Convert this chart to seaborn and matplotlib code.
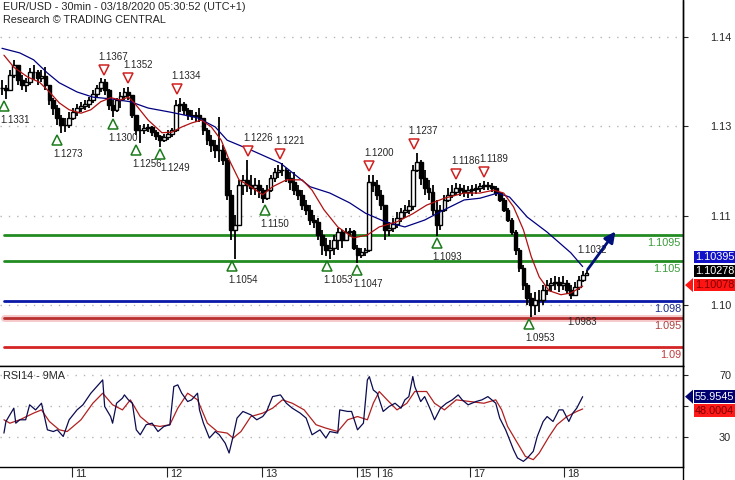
import numpy as np
import seaborn as sns
import matplotlib.pyplot as plt
from matplotlib.patches import Polygon
from matplotlib.lines import Line2D
from matplotlib.transforms import offset_copy, IdentityTransform

# prices are kept in pips above 1.0000 (1351 -> 1.1351), one candle per hour
highs = [1365, 1356, 1382, 1400, 1391, 1374, 1368, 1386, 1391, 1382,
         1382, 1388, 1356, 1334, 1321, 1304, 1299, 1309, 1316, 1323,
         1327, 1330, 1335, 1347, 1356, 1368, 1367, 1349, 1330, 1334,
         1344, 1351, 1352, 1339, 1304, 1287, 1288, 1288, 1285, 1278,
         1269, 1271, 1278, 1281, 1330, 1334, 1327, 1316, 1313, 1309,
         1316, 1299, 1281, 1269, 1260, 1300, 1252, 1229, 1173, 1130,
         1191, 1199, 1226, 1199, 1194, 1191, 1177, 1182, 1199, 1212,
         1217, 1221, 1212, 1205, 1205, 1182, 1173, 1156, 1147, 1130,
         1125, 1104, 1090, 1086, 1095, 1107, 1104, 1107, 1107, 1104,
         1078, 1072, 1072, 1199, 1200, 1191, 1173, 1147, 1118, 1125,
         1135, 1142, 1147, 1156, 1217, 1237, 1226, 1208, 1191, 1182,
         1156, 1147, 1165, 1177, 1182, 1186, 1184, 1182, 1180, 1182,
         1184, 1186, 1189, 1187, 1186, 1180, 1170, 1159, 1142, 1125,
         1104, 1072, 1043, 1011, 994, 996, 999, 1008, 1017, 1020,
         1024, 1022, 1024, 1017, 1008, 1013, 1024, 1032, 1034]
lows = [1339, 1331, 1347, 1368, 1356, 1347, 1344, 1356, 1365, 1356,
        1361, 1347, 1321, 1304, 1287, 1273, 1274, 1281, 1295, 1302,
        1309, 1313, 1316, 1325, 1334, 1344, 1339, 1313, 1300, 1309,
        1316, 1330, 1330, 1299, 1269, 1256, 1271, 1274, 1267, 1260,
        1249, 1257, 1260, 1266, 1274, 1309, 1304, 1295, 1295, 1292,
        1292, 1269, 1252, 1240, 1229, 1222, 1217, 1156, 1086, 1054,
        1112, 1165, 1170, 1165, 1165, 1159, 1150, 1156, 1170, 1187,
        1194, 1198, 1187, 1173, 1165, 1156, 1139, 1130, 1112, 1107,
        1086, 1060, 1058, 1053, 1060, 1069, 1072, 1085, 1093, 1069,
        1047, 1055, 1058, 1065, 1170, 1156, 1139, 1086, 1093, 1100,
        1107, 1118, 1125, 1132, 1139, 1205, 1182, 1165, 1156, 1130,
        1093, 1104, 1135, 1152, 1159, 1165, 1163, 1161, 1159, 1163,
        1166, 1170, 1173, 1173, 1170, 1163, 1152, 1135, 1118, 1095,
        1060, 1031, 999, 973, 953, 956, 961, 973, 991, 996,
        999, 996, 999, 992, 983, 989, 999, 1013, 1024]
closes = [1351, 1347, 1374, 1391, 1365, 1356, 1361, 1379, 1379, 1368,
          1372, 1356, 1330, 1316, 1299, 1287, 1287, 1299, 1309, 1316,
          1320, 1323, 1330, 1340, 1351, 1361, 1347, 1321, 1313, 1330,
          1337, 1344, 1339, 1304, 1278, 1278, 1281, 1283, 1274, 1267,
          1260, 1266, 1271, 1278, 1321, 1323, 1313, 1304, 1302, 1304,
          1299, 1278, 1260, 1252, 1243, 1243, 1226, 1165, 1104, 1112,
          1182, 1191, 1182, 1177, 1182, 1173, 1159, 1173, 1194, 1205,
          1208, 1208, 1194, 1187, 1173, 1165, 1147, 1139, 1121, 1118,
          1095, 1078, 1069, 1072, 1086, 1100, 1086, 1100, 1102, 1072,
          1060, 1065, 1069, 1187, 1182, 1165, 1147, 1104, 1107, 1114,
          1125, 1135, 1139, 1145, 1208, 1222, 1194, 1177, 1170, 1139,
          1112, 1139, 1156, 1165, 1170, 1177, 1173, 1170, 1173, 1175,
          1177, 1180, 1182, 1180, 1177, 1168, 1156, 1139, 1121, 1100,
          1069, 1038, 1008, 985, 973, 982, 982, 999, 1008, 1011,
          1013, 1008, 1011, 999, 991, 1004, 1017, 1025, 1028]

# moving averages on price, read at a few 30min bar numbers
blue_ma_bar = [1, 10, 17, 24, 30, 39, 47, 56, 66, 75, 86, 100, 109, 115, 122, 127, 142,
               157, 167, 177, 185, 195, 205, 215, 225, 235, 243, 252, 258, 267, 277, 289, 295]
blue_ma = [1420, 1412, 1400, 1377, 1360, 1344, 1335, 1332, 1327, 1316, 1309, 1299, 1283,
           1260, 1250, 1243, 1220, 1179, 1168, 1151, 1133, 1118, 1109, 1121, 1139, 1156,
           1159, 1168, 1161, 1126, 1100, 1064, 1040]
red_ma_bar = [2, 7, 14, 20, 25, 30, 35, 41, 46, 51, 56, 61, 65, 68, 75, 82, 87, 92, 97, 102,
              107, 112, 116, 121, 127, 133, 138, 145, 153, 158, 164, 171, 179, 186, 192, 201,
              209, 216, 225, 235, 243, 250, 255, 260, 265, 269, 273, 278, 284, 289, 295]
red_ma = [1408, 1387, 1370, 1361, 1344, 1325, 1313, 1307, 1313, 1327, 1334, 1330, 1335, 1325,
          1295, 1273, 1274, 1283, 1290, 1295, 1283, 1260, 1226, 1191, 1179, 1165, 1179, 1191,
          1191, 1173, 1139, 1109, 1090, 1095, 1109, 1118, 1132, 1147, 1159, 1168, 1168, 1173,
          1168, 1144, 1104, 1057, 1022, 998, 991, 994, 1006]

# RSI14 and its 9MA
rsi_bar = [2, 3, 7, 8, 10, 13, 15, 18, 21, 24, 27, 29, 32, 35, 39, 42, 46, 49, 52, 53,
           56, 57, 59, 62, 63, 65, 67, 69, 71, 74, 77, 80, 83, 86, 88, 90, 92, 95, 97, 100,
           101, 103, 106, 109, 111, 114, 116, 118, 120, 123, 127, 130, 133, 135, 138, 142, 145, 148, 152, 155,
           158, 162, 165, 167, 171, 172, 176, 178, 181, 184, 186, 187, 189, 191, 194, 197, 200, 203, 205, 207,
           209, 210, 213, 215, 218, 220, 223, 226, 229, 232, 234, 237, 241, 244, 247, 249, 251, 253, 256, 258,
           260, 262, 265, 267, 270, 272, 275, 277, 280, 283, 285, 288, 290, 292, 295]
rsi = [32.4, 39.9, 48.5, 38.8, 41, 41, 50.7, 47.4, 51.7, 34.5, 33.4, 34.5, 30.2, 41, 47.4, 50.7, 58.2, 62.5, 66.8, 49.6,
       43.1, 38.8, 51.7, 55, 57.1, 53.9, 51.7, 34.5, 31.3, 37.8, 38.8, 33.4, 36.7, 37.8, 62.5, 63.6, 58.2, 52.8, 53.9, 58.2,
       47.4, 38.8, 29.2, 33.4, 31.3, 25.9, 19.5, 30.2, 42.1, 46.4, 44.2, 41, 43.1, 46.4, 56, 57.1, 51.7, 48.5, 45.3, 42.1,
       31.3, 34.5, 29.2, 33.4, 32.4, 47.4, 46.4, 46.4, 34.5, 38.8, 66.8, 68.9, 60.3, 58.2, 46.4, 49.6, 51.7, 48.5, 53.9, 56,
       69, 62.5, 52.8, 56, 47.4, 41, 48.5, 51.7, 53.9, 57.1, 53.9, 50.7, 52.8, 53.9, 56, 53.9, 51.7, 42.1, 34.5, 28.1,
       21.6, 16.3, 14.1, 16.3, 20.6, 30.2, 39.9, 43.1, 39.9, 47.4, 47.4, 39.9, 45.3, 48.5, 55.95]
rsi_ma_bar = [2, 5, 10, 17, 21, 25, 30, 34, 41, 47, 52, 57, 62, 66, 71, 76, 81, 86, 90, 95,
              100, 105, 110, 115, 118, 122, 127, 133, 138, 143, 148, 154, 160, 165, 171, 176, 181, 186, 189, 192,
              196, 201, 206, 210, 216, 220, 225, 231, 238, 245, 251, 254, 257, 262, 266, 270, 273, 278, 282, 287,
              292, 295]
rsi_ma = [41, 38.8, 41, 45.3, 47.4, 39.9, 34.5, 33.4, 41, 51.7, 58.2, 50.7, 47.4, 53.9, 43.1, 37.8, 36.7, 37.8, 48.5, 58.2,
          53.9, 38.8, 33.4, 32.4, 29.2, 33.4, 43.1, 45.3, 48.5, 53.9, 51.7, 47.4, 37.8, 35.6, 33.4, 41, 43.1, 41, 51.7, 59.3,
          53.9, 47.4, 51.7, 59.3, 59.3, 51.7, 47.4, 53.9, 52.8, 51.7, 53.9, 47.4, 36.7, 25.9, 17.3, 15.2, 19.5, 30.2, 37.8, 43.1,
          46.4, 48.0]

# swing points: (bar, price label)
swing_lows = [(2, "1.1331"), (29, "1.1273"), (57, "1.1300"), (69, "1.1256"), (81, "1.1249"), (117.5, "1.1054"),
              (134, "1.1150"), (165.5, "1.1053"), (181, "1.1047"), (221, "1.1093"), (268, "1.0953")]
swing_highs = [(52.5, "1.1367"), (65, "1.1352"), (89.5, "1.1334"), (125.5, "1.1226"), (142, "1.1221"),
               (187, "1.1200"), (209.5, "1.1237"), (231, "1.1186"), (245, "1.1189")]

levels = [1.1095, 1.105, 1.098, 1.095, 1.09]
level_labels = ["1.1095", "1.105", "1.098", "1.095", "1.09"]
level_colors = ["#228b22", "#228b22", "#0a1aa8", "#b83030", "#d42424"]
level_text_colors = ["#3a9a3a", "#3a9a3a", "#1a2a8a", "#b04040", "#c43a3a"]

day_ticks = [36.5, 84.5, 132.5, 180.5, 191.5, 238, 285.5]
day_labels = ["11", "12", "13", "15", "16", "17", "18"]
price_ticks = [1.0973, 1.1128, 1.1285, 1.1440]

sns.set_style("white")
plt.rcParams['font.family'] = ['Liberation Sans', 'DejaVu Sans']
FS = 7.8

fig = plt.figure(figsize=(7.35, 4.8), dpi=100)
W, H = 735, 480
ax = fig.add_axes([0, 114 / H, 683 / W, 366 / H])
ax2 = fig.add_axes([0, 13 / H, 683 / W, 101 / H])

px = lambda v: np.asarray(v) / 1e4 + 1

# candles
c = px(closes)
o = np.r_[c[0], c[:-1]]
x = np.arange(len(c)) * 2 + 1
ax.vlines(x, px(lows), px(highs), color="black", lw=1.3, zorder=3)
up = c >= o
ax.bar(x[up], (c - o)[up], bottom=o[up], width=1.9, color="white", edgecolor="black", lw=1.0, zorder=4)
ax.bar(x[~up], (o - c)[~up], bottom=c[~up], width=1.9, color="black", edgecolor="black", lw=1.0, zorder=4)

sns.lineplot(x=blue_ma_bar, y=px(blue_ma), color="#000080", lw=0.9, ax=ax, zorder=5)
sns.lineplot(x=red_ma_bar, y=px(red_ma), color="#b01010", lw=0.9, ax=ax, zorder=5)

for v in price_ticks:
    ax.axhline(v, xmax=0.997, color="#b4b4b4", lw=1, ls=(0, (1, 5)), zorder=1)

ax.axhline(1.095, xmin=0.006, color="#f6caca", lw=5, zorder=1)
for v, lab, col, tcol in zip(levels, level_labels, level_colors, level_text_colors):
    ax.axhline(v, xmin=0.006, color=col, lw=2, zorder=2)
    ax.annotate(lab, xy=(0.997, v), xycoords=("axes fraction", "data"), xytext=(0, -3),
                textcoords="offset pixels", ha="right", va="top", color=tcol, fontsize=FS)

# swing markers
below = offset_copy(ax.transData, fig=fig, x=0, y=-7, units="dots")
above = offset_copy(ax.transData, fig=fig, x=0, y=9, units="dots")
for b, lab in swing_lows:
    ax.plot(b, float(lab), marker="^", ms=7.5, mfc="white", mec="#1a7a1a", mew=1.1, transform=below, zorder=6)
    dx = 0 if lab == "1.1249" else -4
    ax.annotate(lab, xy=(b, float(lab)), xytext=(dx, -21), textcoords="offset pixels",
                ha="left", va="center", fontsize=7, zorder=6)
for b, lab in swing_highs:
    ax.plot(b, float(lab), marker="v", ms=7.5, mfc="white", mec="#d02020", mew=1.1, transform=above, zorder=6)
    ax.annotate(lab, xy=(b, float(lab)), xytext=(-5, 22), textcoords="offset pixels",
                ha="left", va="center", fontsize=7, zorder=6)
ax.annotate("1.0983", xy=(289, 1.0983), xytext=(-4, -23), textcoords="offset pixels",
            ha="left", va="center", fontsize=7)
ax.annotate("1.1032", xy=(292.5, 1.1032), xytext=(0, 21), textcoords="offset pixels",
            ha="left", va="center", fontsize=7)

# projected move
ax.annotate("", xy=(312.4, 1.1105), xytext=(296.7, 1.1031),
            arrowprops=dict(arrowstyle="-|>", color="#00107a", lw=2, mutation_scale=16))

ax.set_xlim(0, 345.8)
ax.set_ylim(1.08669, 1.15041)
ax.set_xticks([])
ax.yaxis.tick_right()
ax.set_yticks(price_ticks, [f"{v:.2f}" for v in price_ticks], ha="right")
ax.tick_params(axis="y", direction="out", length=3.6, pad=31, labelsize=FS, right=True)
for s in ["top", "left"]:
    ax.spines[s].set_visible(False)
for s in ["right", "bottom"]:
    ax.spines[s].set_color("black")
    ax.spines[s].set_linewidth(1)

# RSI panel
for v in [30, 50, 70]:
    ax2.axhline(v, xmax=0.997, color="#b4b4b4", lw=1, ls=(0, (1, 5)), zorder=1)
sns.lineplot(x=rsi_ma_bar, y=rsi_ma, color="#b02020", lw=0.9, ax=ax2, zorder=3)
sns.lineplot(x=rsi_bar, y=rsi, color="#0b0b50", lw=0.9, ax=ax2, zorder=4)
ax2.set_xlim(0, 345.8)
ax2.set_ylim(10.45, 75.8)
ax2.set_ylabel("")
ax2.yaxis.tick_right()
ax2.set_yticks([30, 50, 70], ["30", "", "70"], ha="right")
ax2.tick_params(axis="y", direction="out", length=3.6, pad=31, labelsize=FS, right=True)
ax2.set_xticks(day_ticks, day_labels, ha="left")
ax2.tick_params(axis="x", direction="out", length=7, pad=-5.8, labelsize=FS, bottom=True)
shift = offset_copy(IdentityTransform(), fig=fig, x=3, y=0, units="dots")
for lbl in ax2.get_xticklabels():
    lbl.set_transform(lbl.get_transform() + shift)
ax2.spines["left"].set_visible(False)
for s in ["right", "bottom", "top"]:
    ax2.spines[s].set_color("black")
    ax2.spines[s].set_linewidth(1)

fig.add_artist(Line2D([683 / W, 683 / W], [0, 1], color="black", lw=1, transform=fig.transFigure))

# headers
fig.text(3 / W, 1 - 7 / H, "EUR/USD - 30min - 03/18/2020 05:30:52 (UTC+1)", fontsize=FS, va="center")
fig.text(3 / W, 1 - 20 / H, "Research \u00a9 TRADING CENTRAL", fontsize=FS, va="center")
fig.text(3 / W, 1 - 376 / H, "RSI14 - 9MA", fontsize=FS, va="center")


# last value boxes
def value_box(axis, value, text, fc, tc, dy=0, pointer=False):
    axis.annotate(text, xy=(1, value), xycoords=("axes fraction", "data"), xytext=(12, dy),
                  textcoords="offset pixels", ha="left", va="center", color=tc, fontsize=FS,
                  annotation_clip=False,
                  bbox=dict(boxstyle="square,pad=0.12", fc=fc, ec="none"))
    if pointer:
        ypx = axis.transData.transform((0, value))[1]
        tri = Polygon([[685 / W, ypx / H], [693 / W, (ypx + 7) / H], [693 / W, (ypx - 7) / H]],
                      closed=True, fc=fc, ec="none", transform=fig.transFigure)
        fig.add_artist(tri)


value_box(ax, 1.10078, "1.10078", "#ff1414", "#800000", pointer=True)
value_box(ax, 1.10078, "1.10278", "#000000", "white", dy=14)
value_box(ax, 1.10078, "1.10395", "#1212c8", "white", dy=28)
value_box(ax2, 55.9545, "55.9545", "#000070", "white", pointer=True)
value_box(ax2, 55.9545, "48.0004", "#ff1a1a", "#800000", dy=-14)

fig.savefig("out.png", dpi=100)
